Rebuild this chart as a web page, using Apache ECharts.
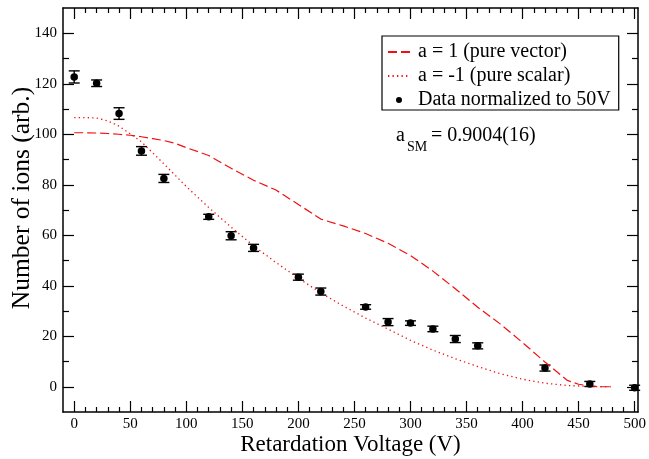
<!DOCTYPE html>
<html>
<head>
<meta charset="utf-8">
<script src="https://cdn.jsdelivr.net/npm/echarts@6/dist/echarts.min.js"></script>
<style>
html,body{margin:0;padding:0;background:#fff;}
#chart{width:649px;height:459px;}
</style>
</head>
<body>
<div id="chart"></div>
<script>
// measured points (retardation voltage, ions, error)
var dataX   = [0, 20, 40, 60, 80, 120, 140, 160, 200, 220, 260, 280, 300, 320, 340, 360, 420, 460, 500];
var dataY   = [122.7, 120.2, 108.2, 93.4, 82.5, 67.3, 59.8, 55.0, 43.4, 37.7, 31.6, 25.6, 25.2, 22.9, 18.9, 16.2, 7.4, 1.1, -0.4];
var dataErr = [2.4, 1.3, 2.3, 1.7, 1.6, 1.0, 1.6, 1.4, 1.2, 1.4, 0.9, 1.4, 0.9, 1.1, 1.4, 1.2, 1.2, 1.0, 1.0];

// a = 1 curve
var vecX = [0, 10, 20, 30, 40, 50, 60, 70, 80, 90, 100, 120, 140, 160, 180, 200, 220, 240, 260, 280, 300, 320, 340, 360, 380, 400, 420, 440, 450, 460, 470, 480];
var vecY = [100.6, 100.6, 100.5, 100.3, 100.0, 99.6, 99.0, 98.3, 97.5, 96.4, 94.7, 91.6, 86.5, 81.8, 77.9, 72.2, 66.4, 63.7, 60.7, 56.8, 52.0, 45.8, 38.8, 31.5, 24.9, 17.5, 9.8, 2.5, 1.0, 0.3, 0.0, 0.0];

// a = -1 curve
var scaX = [0, 10, 20, 30, 40, 50, 60, 80, 100, 120, 140, 160, 180, 200, 220, 240, 260, 280, 300, 320, 340, 360, 380, 400, 420, 440, 460, 480];
var scaY = [106.6, 106.6, 106.4, 105.3, 103.2, 100.2, 97.0, 88.3, 79.3, 71.0, 63.2, 55.8, 49.2, 43.0, 37.2, 32.0, 27.2, 22.8, 18.4, 14.5, 11.1, 8.0, 5.2, 3.0, 1.4, 0.5, 0.1, 0.0];

var xMajor = [0, 50, 100, 150, 200, 250, 300, 350, 400, 450, 500];
var xMinor = [10,20,30,40,60,70,80,90,110,120,130,140,160,170,180,190,210,220,230,240,260,270,280,290,310,320,330,340,360,370,380,390,410,420,430,440,460,470,480,490];
var yMajor = [0, 20, 40, 60, 80, 100, 120, 140];
var yMinor = [10, 30, 50, 70, 90, 110, 130];

var X_MIN = -10, X_MAX = 503, Y_MIN = -10, Y_MAX = 150;
var FONT = '"Liberation Serif", "DejaVu Serif", serif';
var RED = '#f01010';

var points = dataX.map(function(x, i){ return [x, dataY[i]]; });
var bars = dataX.map(function(x, i){ return [x, dataY[i], dataErr[i]]; });

function xAx(pos, grid, ticks, len, labels, line){
    return {
        type: 'value', gridIndex: grid, position: pos, min: X_MIN, max: X_MAX,
        axisLine: {show: line, onZero: false, lineStyle: {color: '#000', width: 1.5}},
        axisTick: {show: true, inside: true, length: len, customValues: ticks, lineStyle: {color: '#000', width: 1.2}},
        axisLabel: {show: labels, customValues: ticks, margin: 5, color: '#000', fontFamily: FONT, fontSize: 15},
        splitLine: {show: false}
    };
}
function yAx(pos, grid, ticks, len, labels, line){
    return {
        type: 'value', gridIndex: grid, position: pos, min: Y_MIN, max: Y_MAX,
        axisLine: {show: line, onZero: false, lineStyle: {color: '#000', width: 1.5}},
        axisTick: {show: true, inside: true, length: len, customValues: ticks, lineStyle: {color: '#000', width: 1.2}},
        axisLabel: {show: labels, customValues: ticks, margin: 6, color: '#000', fontFamily: FONT, fontSize: 15},
        splitLine: {show: false}
    };
}

var xBottom = xAx('bottom', 0, xMajor, 11, true, true);
xBottom.name = 'Retardation Voltage (V)';
xBottom.nameLocation = 'middle';
xBottom.nameGap = 21;
xBottom.nameMoveOverlap = false;
xBottom.nameTextStyle = {color: '#000', fontFamily: FONT, fontSize: 23, lineHeight: 24};

var yLeft = yAx('left', 0, yMajor, 11, true, true);
yLeft.name = 'Number of ions (arb.)';
yLeft.nameLocation = 'middle';
yLeft.nameGap = 28;
yLeft.nameMoveOverlap = false;
yLeft.nameTextStyle = {color: '#000', fontFamily: FONT, fontSize: 25.5, lineHeight: 26, padding: [0, 0, 0, 24]};

var chart = echarts.init(document.getElementById('chart'));

var gridBox = {left: 63, right: 11, top: 8, bottom: 47, outerBoundsMode: 'none', containLabel: false};

var option = {
    animation: false,
    backgroundColor: '#fff',
    grid: [
        Object.assign({}, gridBox),
        Object.assign({}, gridBox)
    ],
    xAxis: [
        xBottom,
        xAx('top', 0, xMajor, 11, false, true),
        xAx('bottom', 1, xMinor, 5, false, false),
        xAx('top', 1, xMinor, 5, false, false)
    ],
    yAxis: [
        yLeft,
        yAx('right', 0, yMajor, 11, false, true),
        yAx('left', 1, yMinor, 6, false, false),
        yAx('right', 1, yMinor, 6, false, false)
    ],
    legend: {
        orient: 'vertical',
        left: 382, top: 36,
        backgroundColor: '#fff',
        borderColor: '#000', borderWidth: 1.2, borderRadius: 0,
        padding: [6, 8, 0, 5],
        itemWidth: 22, itemHeight: 6, itemGap: 4,
        textStyle: {color: '#000', fontFamily: FONT, fontSize: 20, lineHeight: 20, padding: [0, 0, 0, 3]},
        data: [
            {name: 'a = 1 (pure vector)', itemStyle: {opacity: 0}},
            {name: 'a = -1 (pure scalar)', itemStyle: {opacity: 0}},
            'Data normalized to 50V'
        ]
    },
    graphic: [
        {type: 'text', left: 396, top: 126, style: {text: 'a', fill: '#000', font: '20px ' + FONT}},
        {type: 'text', left: 407, top: 140, style: {text: 'SM', fill: '#000', font: '14px ' + FONT}},
        {type: 'text', left: 431, top: 126, style: {text: '= 0.9004(16)', fill: '#000', font: '20px ' + FONT}}
    ],
    series: [
        {
            name: 'a = 1 (pure vector)', type: 'line', xAxisIndex: 0, yAxisIndex: 0,
            data: vecX.map(function(x, i){ return [x, vecY[i]]; }),
            symbol: 'none', color: RED,
            lineStyle: {color: RED, width: 1.2, type: [9, 4]}
        },
        {
            name: 'a = -1 (pure scalar)', type: 'line', xAxisIndex: 0, yAxisIndex: 0,
            data: scaX.map(function(x, i){ return [x, scaY[i]]; }),
            symbol: 'none', color: RED,
            lineStyle: {color: RED, width: 1.3, type: [1.3, 3.2]}
        },
        {
            name: 'Data normalized to 50V', type: 'scatter', xAxisIndex: 0, yAxisIndex: 0,
            data: points, symbol: 'circle', symbolSize: 7.5,
            itemStyle: {color: '#000', opacity: 1}, z: 4
        },
        {
            name: 'err', type: 'custom', xAxisIndex: 0, yAxisIndex: 0, z: 3,
            data: bars,
            renderItem: function(params, api){
                var x = api.value(0), y = api.value(1), e = api.value(2);
                var hi = api.coord([x, y + e]);
                var lo = api.coord([x, y - e]);
                var w = 5.5;
                var st = {stroke: '#000', lineWidth: 1.4};
                return {
                    type: 'group',
                    children: [
                        {type: 'line', shape: {x1: hi[0], y1: hi[1], x2: lo[0], y2: lo[1]}, style: st},
                        {type: 'line', shape: {x1: hi[0] - w, y1: hi[1], x2: hi[0] + w, y2: hi[1]}, style: st},
                        {type: 'line', shape: {x1: lo[0] - w, y1: lo[1], x2: lo[0] + w, y2: lo[1]}, style: st}
                    ]
                };
            }
        }
    ]
};

chart.setOption(option);
window.onresize = function(){
    chart.resize();
};
</script>
</body>
</html>
